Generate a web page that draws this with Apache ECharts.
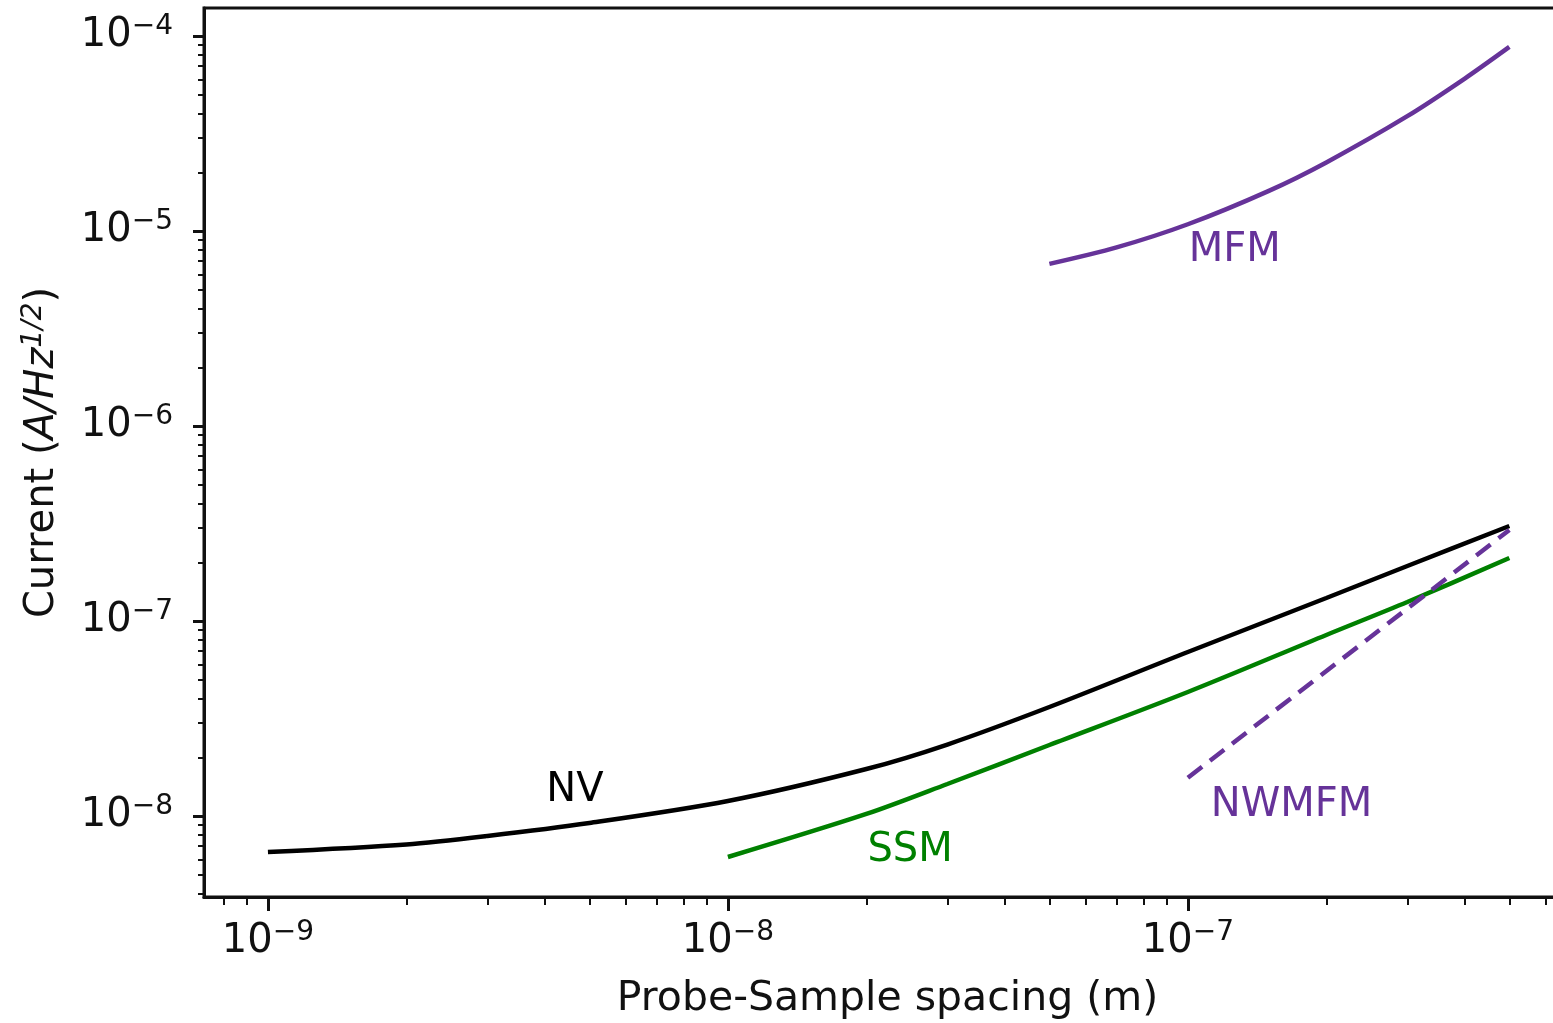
<!DOCTYPE html>
<html>
<head>
<meta charset="utf-8">
<script src="https://cdn.jsdelivr.net/npm/echarts@6/dist/echarts.min.js"></script>
<style>
  html, body { margin: 0; padding: 0; background: #fff; }
  #chart { width: 1553px; height: 1023px; }
</style>
</head>
<body>
<div id="chart"></div>
<script>
// Noise-equivalent current vs. probe–sample spacing for four sensing techniques.
// Spacing in metres, current in A/Hz^(1/2).
const spacingNV = [1e-9, 2e-9, 3e-9, 5e-9, 1e-8, 2e-8, 3e-8, 5e-8, 1e-7, 2e-7, 3e-7, 5e-7];
const currentNV = [6.54e-9, 7.15e-9, 7.90e-9, 9.21e-9, 1.194e-8, 1.742e-8, 2.326e-8, 3.622e-8, 6.935e-8, 1.312e-7, 1.914e-7, 3.07e-7];

const spacingSSM = [1e-8, 2e-8, 3e-8, 5e-8, 1e-7, 2e-7, 3e-7, 5e-7];
const currentSSM = [6.16e-9, 1.024e-8, 1.459e-8, 2.312e-8, 4.325e-8, 8.48e-8, 1.251e-7, 2.104e-7];

const spacingMFM = [5e-8, 7e-8, 1e-7, 1.5e-7, 2e-7, 3e-7, 4e-7, 5e-7];
const currentMFM = [6.78e-6, 8.24e-6, 1.083e-5, 1.607e-5, 2.248e-5, 3.88e-5, 6.05e-5, 8.79e-5];

const spacingNWMFM = [1e-7, 5e-7];
const currentNWMFM = [1.57e-8, 2.93e-7];

// Decade ticks carrying labels
const xMajorTicks = [1e-9, 1e-8, 1e-7];
const yMajorTicks = [1e-8, 1e-7, 1e-6, 1e-5, 1e-4];

// In-plot curve names and where they sit (spacing, current)
const curveNames = ['NV', 'SSM', 'MFM', 'NWMFM'];
const curveNameSpots = [[4.65e-9, 1.345e-8], [2.49e-8, 6.62e-9], [1.265e-7, 7.9e-6], [1.68e-7, 1.126e-8]];

const FONT = '"DejaVu Sans", "Liberation Sans", sans-serif';
const INK = '#111111';
const PURPLE = '#663399';
const GREEN = '#008000';
const curveColors = ['#000000', GREEN, PURPLE, PURPLE];

// Axis ranges (log10 exponents include the usual 5% padding)
const xMin = Math.pow(10, -9.139), xMax = Math.pow(10, -6.167);
const yMin = Math.pow(10, -8.4154), yMax = Math.pow(10, -3.8564);

function minorTicks(lo, hi) {
  const out = [];
  for (let e = Math.floor(Math.log10(lo)) - 1; e <= Math.ceil(Math.log10(hi)); e++) {
    for (let m = 2; m <= 9; m++) {
      const v = m * Math.pow(10, e);
      if (v >= lo && v <= hi) out.push(v);
    }
  }
  return out;
}

function powLabel(v) {
  const e = Math.round(Math.log10(v));
  return '{b|10}{s|' + (e < 0 ? '\u2212' : '') + Math.abs(e) + '}';
}

const tickRich = {
  b: { fontSize: 40, lineHeight: 46, fontFamily: FONT, color: INK },
  s: { fontSize: 28, lineHeight: 22, verticalAlign: 'top', fontFamily: FONT, color: INK }
};

function zip(xs, ys) { return xs.map((x, i) => [x, ys[i]]); }

function curve(name, xs, ys, color, dashed) {
  return {
    name: name,
    type: 'line',
    xAxisIndex: 0,
    yAxisIndex: 0,
    data: zip(xs, ys),
    symbol: 'none',
    showSymbol: false,
    smooth: 0.3,
    silent: true,
    lineStyle: { color: color, width: 4.5, type: dashed ? [18, 10] : 'solid', cap: 'butt', opacity: 1 },
    z: 3
  };
}

const nameSeries = curveNames.map((n, i) => ({
  name: n + ' label',
  type: 'scatter',
  xAxisIndex: 0,
  yAxisIndex: 0,
  silent: true,
  symbolSize: 1,
  itemStyle: { color: 'rgba(0,0,0,0)', opacity: 1 },
  data: [curveNameSpots[i]],
  label: {
    show: true,
    position: 'inside',
    formatter: n,
    fontSize: 40,
    fontFamily: FONT,
    color: curveColors[i],
    opacity: 1
  },
  z: 4
}));

const chart = echarts.init(document.getElementById('chart'), null, { renderer: 'canvas', width: 1553, height: 1023 });

chart.setOption({
  animation: false,
  backgroundColor: '#ffffff',
  grid: {
    left: 204, top: 8, width: 1367, height: 889,
    containLabel: false,
    outerBoundsMode: 'none',
    show: true,
    borderColor: INK,
    borderWidth: 3,
    backgroundColor: 'transparent'
  },
  xAxis: [
    {
      type: 'log', gridIndex: 0, position: 'bottom', min: xMin, max: xMax,
      axisLine: { show: true, onZero: false, lineStyle: { color: INK, width: 3 } },
      axisTick: { show: true, inside: false, length: 14, lineStyle: { color: INK, width: 3 }, customValues: xMajorTicks },
      axisLabel: { show: true, margin: 22, customValues: xMajorTicks, formatter: powLabel, rich: tickRich },
      splitLine: { show: false },
      minorTick: { show: false },
      name: 'Probe-Sample spacing (m)',
      nameLocation: 'middle',
      nameGap: 82,
      nameTextStyle: { fontSize: 41, fontFamily: FONT, color: INK }
    },
    {
      type: 'log', gridIndex: 0, position: 'bottom', min: xMin, max: xMax,
      axisLine: { show: false },
      axisTick: { show: true, inside: false, length: 8, lineStyle: { color: INK, width: 2 }, customValues: minorTicks(xMin, xMax) },
      axisLabel: { show: false },
      splitLine: { show: false }
    }
  ],
  yAxis: [
    {
      type: 'log', gridIndex: 0, position: 'left', min: yMin, max: yMax,
      axisLine: { show: true, onZero: false, lineStyle: { color: INK, width: 3 } },
      axisTick: { show: true, inside: false, length: 11, lineStyle: { color: INK, width: 3 }, customValues: yMajorTicks },
      axisLabel: { show: true, margin: 31, customValues: yMajorTicks, formatter: powLabel, rich: tickRich },
      splitLine: { show: false },
      minorTick: { show: false },
      name: '{r|Current (}{i|A/Hz}{s|1/2}{r|)}',
      nameLocation: 'middle',
      nameRotate: 90,
      nameGap: 138,
      nameTextStyle: {
        rich: {
          r: { fontSize: 40, lineHeight: 46, fontFamily: FONT, color: INK },
          i: { fontSize: 40, lineHeight: 46, fontFamily: FONT, fontStyle: 'italic', color: INK },
          s: { fontSize: 28, lineHeight: 22, verticalAlign: 'top', fontFamily: FONT, fontStyle: 'italic', color: INK }
        }
      }
    },
    {
      type: 'log', gridIndex: 0, position: 'left', min: yMin, max: yMax,
      axisLine: { show: false },
      axisTick: { show: true, inside: false, length: 6, lineStyle: { color: INK, width: 2 }, customValues: minorTicks(yMin, yMax) },
      axisLabel: { show: false },
      splitLine: { show: false }
    }
  ],
  series: [
    curve('NV', spacingNV, currentNV, '#000000', false),
    curve('SSM', spacingSSM, currentSSM, GREEN, false),
    curve('MFM', spacingMFM, currentMFM, PURPLE, false),
    curve('NWMFM', spacingNWMFM, currentNWMFM, PURPLE, true)
  ].concat(nameSeries)
});
</script>
</body>
</html>
